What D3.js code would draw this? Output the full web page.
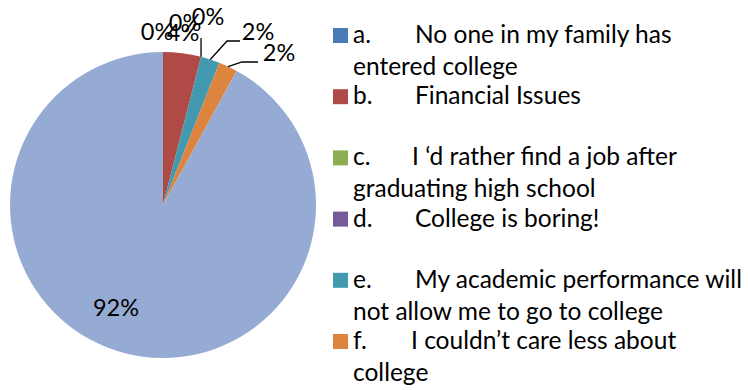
<!DOCTYPE html>
<html>
<head>
<meta charset="utf-8">
<script src="https://cdn.jsdelivr.net/npm/d3@7"></script>
<style>
  html, body { margin: 0; padding: 0; background: #fff; }
  svg { display: block; }
  text { font-family: Lato, "Open Sans", sans-serif; fill: #000; }
</style>
</head>
<body>
<div id="chart"></div>
<script>
// Survey answers: why a student would not go on to college
const letters = ["a.", "b.", "c.", "d.", "e.", "f.", "g."];
const answers = [
  ["No one in my family has", "entered college"],
  ["Financial Issues"],
  ["I \u2018d rather find a job after", "graduating high school"],
  ["College is boring!"],
  ["My academic performance will", "not allow me to go to college"],
  ["I couldn\u2019t care less about", "college"],
  ["Other"]
];
const shares = [0, 4, 0, 0, 2, 2, 92];
const shareLabels = ["0%", "4%", "0%", "0%", "2%", "2%", "92%"];
const colors = ["#4a7bb7", "#b04a47", "#8dad52", "#775a9b", "#4399b0", "#dd843f", "#95abd4"];

// Layout
const W = 748, H = 390;
const cx = 163, cy = 205, R = 153;
const pctFont = 23.5, legendFont = 24.5;
// label anchor (text centre, baseline) relative to the pie centre
const labelOffset = [[-6, -165], [20, -164], [22, -174], [45, -180], [95, -165], [116, -144], [-47, 111]];
// leader lines: elbow and end point relative to the pie centre (null = none)
const leaderPath = [null, null, null, [[38, -167], [38, -167]], [[64, -164], [77, -164]], [[79, -143], [95, -143]], null];

const svg = d3.select("#chart").append("svg")
  .attr("width", W).attr("height", H);

const pie = d3.pie().sort(null).value(d => d)(shares);
const arc = d3.arc().innerRadius(0).outerRadius(R);
const edge = d3.arc().innerRadius(R).outerRadius(R);

const g = svg.append("g").attr("transform", `translate(${cx},${cy})`);

g.selectAll("path.slice")
  .data(pie)
  .join("path")
  .attr("class", "slice")
  .attr("d", arc)
  .attr("fill", (d, i) => colors[i]);

// leader lines from the slice edge out to the label
g.selectAll("polyline.leader")
  .data(pie.filter(d => leaderPath[d.index]))
  .join("polyline")
  .attr("class", "leader")
  .attr("fill", "none")
  .attr("stroke", "#000")
  .attr("stroke-width", 1.3)
  .attr("points", d => {
    const p0 = edge.centroid(d);
    const [p1, p2] = leaderPath[d.index];
    return [p0, p1, p2].map(p => p.join(",")).join(" ");
  });

g.selectAll("text.pct")
  .data(pie)
  .join("text")
  .attr("class", "pct")
  .attr("x", (d, i) => labelOffset[i][0])
  .attr("y", (d, i) => labelOffset[i][1])
  .attr("text-anchor", "middle")
  .attr("font-size", pctFont)
  .text((d, i) => shareLabels[i]);

// legend: the six listed answers, one two-line block each
const legendIdx = d3.range(6);
const rowY = d3.scaleLinear().domain([0, 5]).range([43, 349]);
const lineGap = 32;
const descX = [415, 415, 412, 415, 415, 411];

const leg = svg.append("g");
const item = leg.selectAll("g.item")
  .data(legendIdx)
  .join("g")
  .attr("class", "item");

item.append("rect")
  .attr("x", 333)
  .attr("y", i => rowY(i) - 15)
  .attr("width", 15)
  .attr("height", 15)
  .attr("fill", i => colors[i]);

item.append("text")
  .attr("x", 353)
  .attr("y", i => rowY(i))
  .attr("font-size", legendFont)
  .text(i => letters[i]);

item.append("text")
  .attr("x", i => descX[i])
  .attr("y", i => rowY(i))
  .attr("font-size", legendFont)
  .text(i => answers[i][0]);

item.filter(i => answers[i].length > 1)
  .append("text")
  .attr("x", 353)
  .attr("y", i => rowY(i) + lineGap)
  .attr("font-size", legendFont)
  .text(i => answers[i][1]);
</script>
</body>
</html>
